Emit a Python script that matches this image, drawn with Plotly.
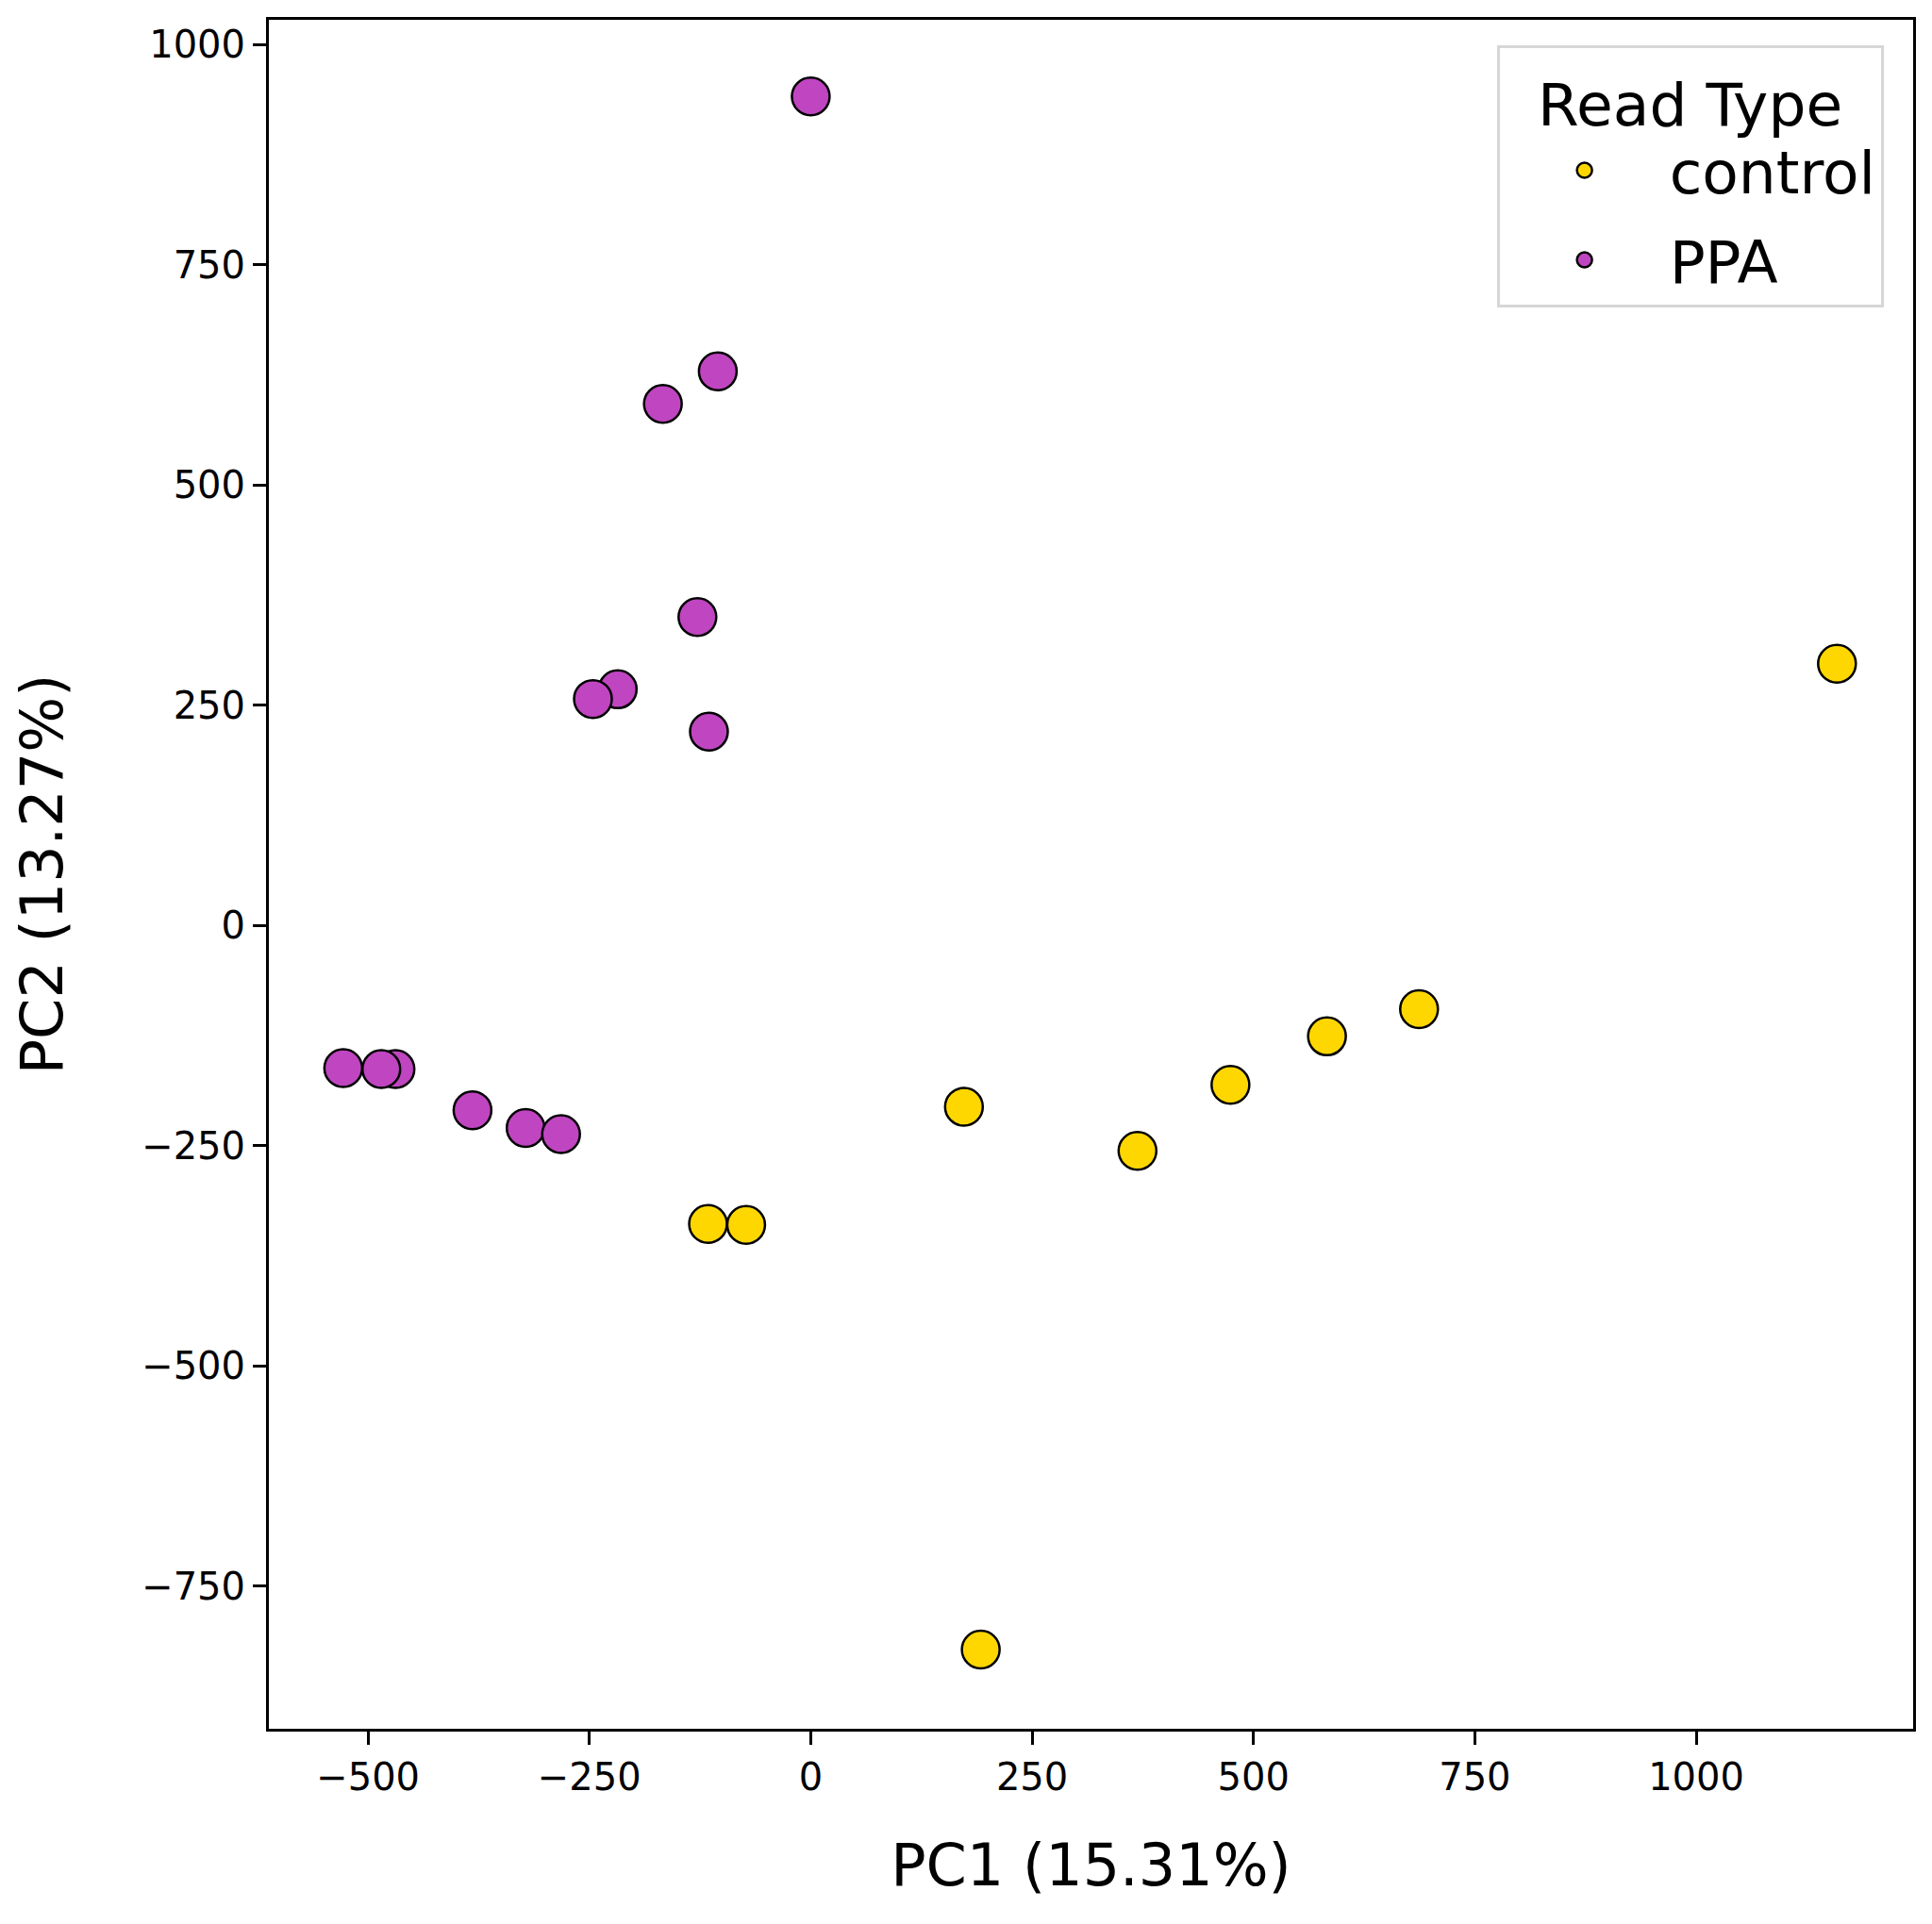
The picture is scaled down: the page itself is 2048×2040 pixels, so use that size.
import plotly.graph_objects as go

# PCA scores
control_x = [1159, 687, 583, 474, 369, 173, -116, -73, 192]
control_y = [297, -95, -126, -181, -256, -206, -339, -340, -822]

ppa_x = [0, -105, -167, -128, -218, -246, -115, -469, -485, -528, -382, -322, -282]
ppa_y = [941, 629, 592, 350, 268, 257, 220, -163, -163, -162, -210, -230, -237]

x_ticks = [-500, -250, 0, 250, 500, 750, 1000]
y_ticks = [-750, -500, -250, 0, 250, 500, 750, 1000]

FONT = "DejaVu Sans"
marker_line = dict(color="black", width=2.5)

fig = go.Figure()
fig.add_trace(go.Scatter(
    x=control_x, y=control_y, mode="markers", name="control", legendgroup="control",
    marker=dict(color="#FFD700", size=40, line=marker_line),
))
fig.add_trace(go.Scatter(
    x=ppa_x, y=ppa_y, mode="markers", name="PPA", legendgroup="PPA",
    marker=dict(color="#C045C1", size=40, line=marker_line),
))

axis_common = dict(
    showline=True, mirror=True, linecolor="black", linewidth=3,
    ticks="outside", ticklen=14, tickwidth=3, tickcolor="black",
    showgrid=False, zeroline=False,
    tickfont=dict(family=FONT, size=40, color="black"),
)

# page body has an 8px margin, so the figure is a bit smaller than the window
fig.update_layout(
    width=2040, height=2032,
    plot_bgcolor="white", paper_bgcolor="white",
    margin=dict(l=277, r=20, t=10, b=207),
    font=dict(family=FONT, color="black"),
    xaxis=dict(
        range=[-612, 1245], tickvals=x_ticks,
        title=dict(text="PC1 (15.31%)", font=dict(family=FONT, size=62), standoff=50),
        **axis_common,
    ),
    yaxis=dict(
        range=[-912, 1028], tickvals=y_ticks,
        title=dict(text="PC2 (13.27%)", font=dict(family=FONT, size=62), standoff=68),
        **axis_common,
    ),
    legend=dict(
        title=dict(text="Read Type", font=dict(family=FONT, size=63), side="top center"),
        font=dict(family=FONT, size=63),
        x=0.982, y=0.985, xanchor="right", yanchor="top",
        bgcolor="white", bordercolor="#d6d6d6", borderwidth=3,
        itemsizing="trace", itemwidth=170, tracegroupgap=10,
    ),
)

fig.write_html("out.html")
